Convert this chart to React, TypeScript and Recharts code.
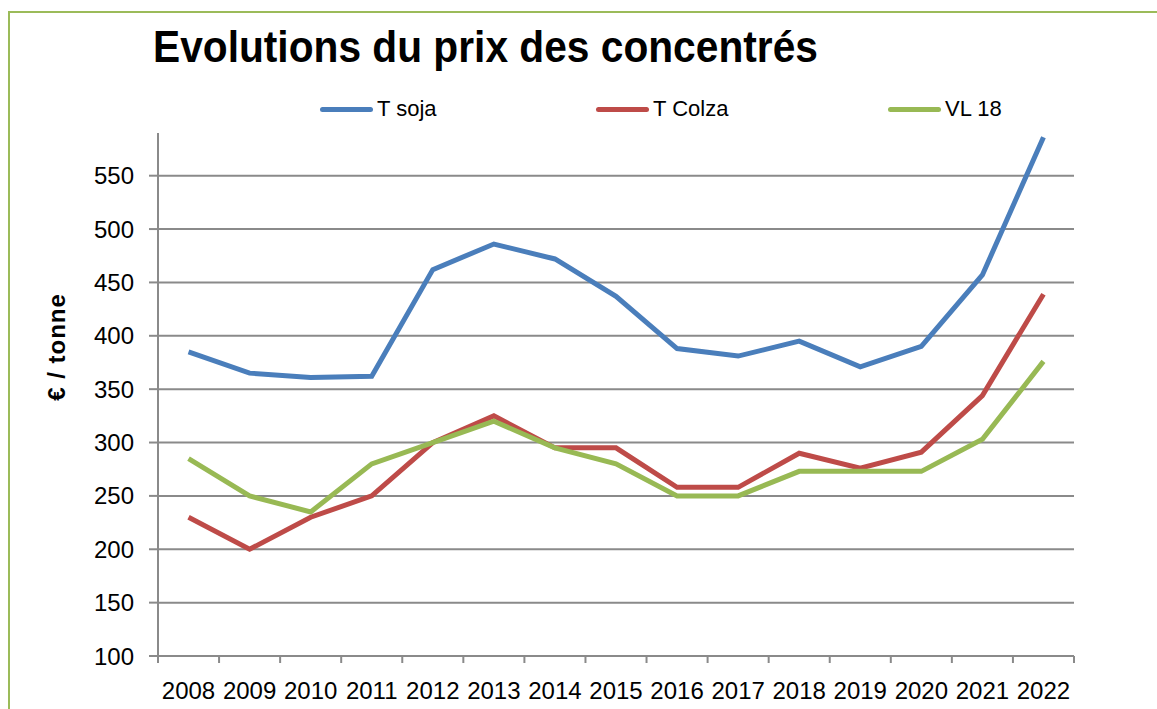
import React from 'react';
import { LineChart, Line, XAxis, YAxis, ReferenceLine } from 'recharts';

const years = ['2008', '2009', '2010', '2011', '2012', '2013', '2014', '2015', '2016', '2017', '2018', '2019', '2020', '2021', '2022'];
const tSoja = [385, 365, 361, 362, 462, 486, 472, 437, 388, 381, 395, 371, 390, 457, 586];
const tColza = [230, 200, 230, 250, 300, 325, 295, 295, 258, 258, 290, 276, 291, 344, 439];
const vl18 = [285, 250, 235, 280, 300, 320, 295, 280, 250, 250, 273, 273, 273, 303, 376];
const yTicks = [100, 150, 200, 250, 300, 350, 400, 450, 500, 550];
const edgeTicks = years.map((_, i) => i).concat([years.length]);

const SERIES = [
  { key: 'soja', name: 'T soja', color: '#4A7EBB' },
  { key: 'colza', name: 'T Colza', color: '#BE4B48' },
  { key: 'vl', name: 'VL 18', color: '#98B954' },
];
const LEGEND_X = [320, 596, 888];

const FONT = '"Liberation Sans", Arial, sans-serif';
const GRID = '#8a8a8a';

const W = 1157;
const H = 709;
const MARGIN = { top: 133, right: 83, bottom: 13, left: 98 };
const Y_WIDTH = 60;
const BAND = (W - MARGIN.left - MARGIN.right - Y_WIDTH) / years.length;

// year label sits in the middle of each band, ticks sit on band edges
function YearTick(props: any) {
  const { x, y, payload } = props;
  const label = years[payload.value];
  if (!label) return null;
  return (
    <text x={x + BAND / 2} y={y + 34} textAnchor="middle" fill="#000" fontSize={24} fontFamily={FONT}>
      {label}
    </text>
  );
}

export default function App() {
  const data = years.map((year, i) => ({
    pos: i + 0.5,
    year,
    soja: tSoja[i],
    colza: tColza[i],
    vl: vl18[i],
  }));

  return (
    <div style={{ position: 'absolute', left: 0, top: 0, width: W, height: H, background: '#fff', fontFamily: FONT, overflow: 'hidden' }}>
      <div style={{ position: 'absolute', left: 8, top: 11, width: 1160, height: 720, borderLeft: '2px solid #9BBB59', borderTop: '2px solid #9BBB59' }} />
      <div style={{ position: 'absolute', left: 153, top: 22, fontSize: 44, fontWeight: 'bold', color: '#000', whiteSpace: 'nowrap', transformOrigin: 'left top', transform: 'scaleX(0.925)' }}>
        Evolutions du prix des concentrés
      </div>
      {SERIES.map((s, i) => (
        <div key={s.key} style={{ position: 'absolute', left: LEGEND_X[i], top: 95, height: 28, display: 'flex', alignItems: 'center', fontSize: 22, color: '#000' }}>
          <span style={{ display: 'inline-block', width: 53, height: 5, borderRadius: 3, background: s.color, marginRight: 4 }} />
          {s.name}
        </div>
      ))}
      <div style={{ position: 'absolute', left: 57, top: 347, transform: 'translate(-50%, -50%) rotate(-90deg)', fontSize: 24, fontWeight: 'bold', whiteSpace: 'nowrap', color: '#000', letterSpacing: 1 }}>
        € / tonne
      </div>
      <div style={{ position: 'absolute', left: 0, top: 0 }}>
        <LineChart width={W} height={H} data={data} margin={MARGIN}>
          <XAxis
            dataKey="pos"
            type="number"
            domain={[0, years.length]}
            ticks={edgeTicks}
            interval={0}
            tickSize={7}
            tickLine={{ stroke: GRID, strokeWidth: 2 }}
            axisLine={{ stroke: GRID, strokeWidth: 2 }}
            tick={<YearTick />}
            height={40}
          />
          <YAxis
            width={Y_WIDTH}
            domain={[100, 590]}
            ticks={yTicks}
            tickSize={9}
            tickMargin={15}
            axisLine={{ stroke: GRID, strokeWidth: 2 }}
            tickLine={{ stroke: GRID, strokeWidth: 2 }}
            tick={{ fill: '#000', fontSize: 24, fontFamily: FONT }}
            allowDataOverflow
          />
          {yTicks.slice(1).map((v) => (
            <ReferenceLine key={v} y={v} stroke={GRID} strokeWidth={2} />
          ))}
          {SERIES.map((s) => (
            <Line
              key={s.key}
              type="linear"
              dataKey={s.key}
              name={s.name}
              stroke={s.color}
              strokeWidth={5}
              dot={false}
              isAnimationActive={false}
            />
          ))}
        </LineChart>
      </div>
    </div>
  );
}
